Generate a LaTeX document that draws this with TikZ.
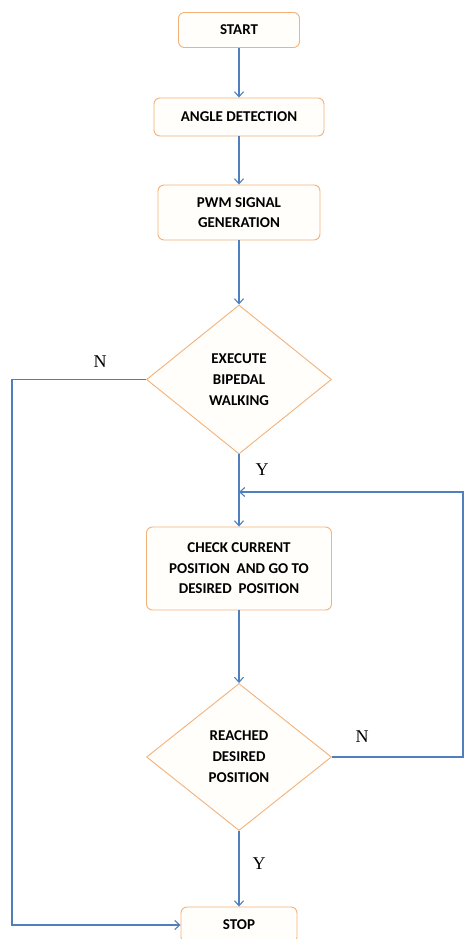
\documentclass[tikz,border=0pt]{standalone}
\usepackage{fontspec}
\setmainfont{Carlito}
\newfontfamily\lblfont{Liberation Serif}
\usetikzlibrary{shapes.geometric,arrows.meta}
\definecolor{boxline}{HTML}{F2B27A}
\definecolor{boxfill}{HTML}{FFFEFA}
\definecolor{arrowblue}{HTML}{4F7FBF}
\tikzset{
  x=1pt,y=-1pt,
  procbox/.style={draw=boxline,fill=boxfill,line width=0.9pt,rounded corners=6pt,
    align=center,inner sep=2pt,font=\fontsize{15}{20.5}\selectfont\bfseries},
  decbox/.style={draw=boxline,fill=boxfill,line width=0.9pt,diamond,inner sep=0pt,
    align=center,font=\fontsize{15}{21}\selectfont\bfseries},
  conn/.style={draw=arrowblue,line width=1.1pt},
  arr/.style={conn,-{Straight Barb[length=5pt,width=9pt,line width=1.1pt]}},
  yn/.style={font=\lblfont\fontsize{18}{18}\selectfont}
}
\begin{document}
\begin{tikzpicture}
\useasboundingbox (0,0) rectangle (465,939);
\node[procbox,minimum width=121pt,minimum height=35pt] (start) at (239,30) {START};
\node[procbox,minimum width=170pt,minimum height=38pt] (angle) at (239,117) {ANGLE DETECTION};
\node[procbox,minimum width=162pt,minimum height=55pt] (pwm) at (239,212.5) {PWM SIGNAL\\GENERATION};
\node[decbox,minimum width=185pt,minimum height=149pt] (d1) at (239,379.5) {EXECUTE\\BIPEDAL\\WALKING};
\node[procbox,minimum width=185pt,minimum height=83pt] (check) at (239,568.5) {CHECK CURRENT\\POSITION~ AND GO TO\\DESIRED~ POSITION};
\node[decbox,minimum width=185pt,minimum height=147pt] (d2) at (239,757) {REACHED\\DESIRED\\POSITION};
\node[procbox,minimum width=116pt,minimum height=36pt] (stop) at (239,925) {STOP};

\coordinate (nl) at (12,379.5);
\coordinate (nr) at (463,757);
\coordinate (fb) at (239,492);

\draw[arr] (start) -- (angle);
\draw[arr] (angle) -- (pwm);
\draw[arr] (pwm) -- (d1);
\draw[arr] (d1) -- (check);
\draw[arr] (check) -- (d2);
\draw[arr] (d2) -- (stop);
\draw[arr] (d1.west) -- (nl) |- (stop.west);
\draw[arr] (d2.east) -- (nr) |- (fb);

\node[yn] (n1) at (100,362) {N};
\node[yn] (y1) at (262,470) {Y};
\node[yn] (n2) at (362,737) {N};
\node[yn] (y2) at (259,864) {Y};
\end{tikzpicture}
\end{document}
